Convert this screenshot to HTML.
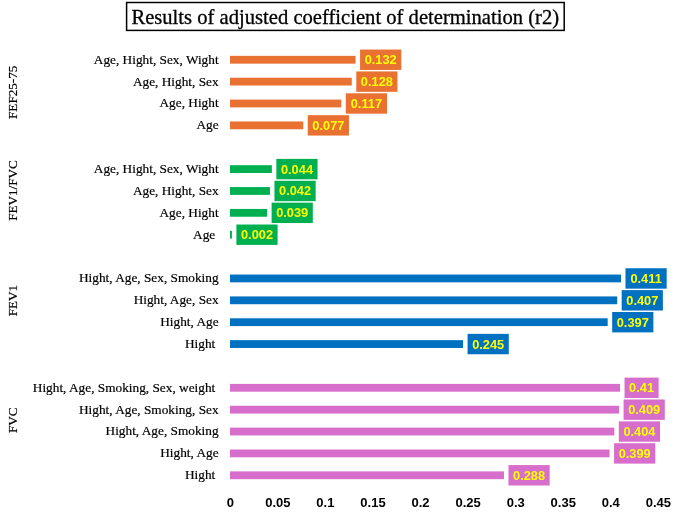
<!DOCTYPE html>
<html lang="en"><head><meta charset="utf-8"><title>Results of adjusted coefficient of determination (r2)</title>
<style>html,body{margin:0;padding:0;background:#fff}body{width:685px;height:513px;overflow:hidden}svg{display:block}text{font-variant-ligatures:none}.c{font-family:"Liberation Serif", serif;font-size:13.3px;fill:#000;stroke:#000;stroke-width:.2px;text-anchor:end;white-space:pre}.g{font-family:"Liberation Serif", serif;font-size:13.15px;fill:#000;stroke:#000;stroke-width:.2px;text-anchor:middle}.v{font-family:"Liberation Sans", sans-serif;font-weight:bold;font-size:12.0px;fill:#FFFF00;text-anchor:middle}.t{font-family:"Liberation Sans", sans-serif;font-weight:bold;font-size:11.9px;fill:#000;text-anchor:middle}.h{font-family:"Liberation Serif", serif;font-size:20.61px;fill:#000;stroke:#000;stroke-width:.3px;text-anchor:middle}</style></head><body>
<svg width="685" height="513" viewBox="0 0 685 513">
<rect x="0" y="0" width="685" height="513" fill="#fff"/>
<rect x="126.6" y="2.5" width="437.6" height="27.9" fill="#fff" stroke="#000" stroke-width="1.5"/>
<text class="h" x="345.25" y="23.8">Results of adjusted coefficient of determination (r2)</text>
<text class="g" transform="translate(17.35 92.30) rotate(-90)">FEF25-75</text>
<text class="g" transform="translate(17.35 190.50) rotate(-90)">FEV1/FVC</text>
<text class="g" transform="translate(17.35 300.60) rotate(-90)">FEV1</text>
<text class="g" transform="translate(17.35 420.30) rotate(-90)">FVC</text>
<rect x="230.0" y="55.85" width="125.57" height="7.8" fill="#E97132"/>
<rect x="360.07" y="49.55" width="41.2" height="20.4" fill="#E97132"/>
<text class="v" transform="translate(380.67 64.25) scale(1.07 1)">0.132</text>
<text class="c" x="218.6" y="63.70">Age, Hight, Sex, Wight</text>
<rect x="230.0" y="77.72" width="121.77" height="7.8" fill="#E97132"/>
<rect x="356.27" y="71.42" width="41.2" height="20.4" fill="#E97132"/>
<text class="v" transform="translate(376.87 86.12) scale(1.07 1)">0.128</text>
<text class="c" x="218.6" y="85.57">Age, Hight, Sex</text>
<rect x="230.0" y="99.59" width="111.30" height="7.8" fill="#E97132"/>
<rect x="345.80" y="93.29" width="41.2" height="20.4" fill="#E97132"/>
<text class="v" transform="translate(366.40 107.99) scale(1.07 1)">0.117</text>
<text class="c" x="218.6" y="107.44">Age, Hight</text>
<rect x="230.0" y="121.46" width="73.25" height="7.8" fill="#E97132"/>
<rect x="307.75" y="115.16" width="41.2" height="20.4" fill="#E97132"/>
<text class="v" transform="translate(328.35 129.86) scale(1.07 1)">0.077</text>
<text class="c" x="218.6" y="129.31">Age</text>
<rect x="230.0" y="165.20" width="41.86" height="7.8" fill="#00B050"/>
<rect x="276.36" y="158.90" width="41.2" height="20.4" fill="#00B050"/>
<text class="v" transform="translate(296.96 173.60) scale(1.07 1)">0.044</text>
<text class="c" x="218.6" y="173.05">Age, Hight, Sex, Wight</text>
<rect x="230.0" y="187.07" width="39.95" height="7.8" fill="#00B050"/>
<rect x="274.45" y="180.77" width="41.2" height="20.4" fill="#00B050"/>
<text class="v" transform="translate(295.05 195.47) scale(1.07 1)">0.042</text>
<text class="c" x="218.6" y="194.92">Age, Hight, Sex</text>
<rect x="230.0" y="208.94" width="37.10" height="7.8" fill="#00B050"/>
<rect x="271.60" y="202.64" width="41.2" height="20.4" fill="#00B050"/>
<text class="v" transform="translate(292.20 217.34) scale(1.07 1)">0.039</text>
<text class="c" x="218.6" y="216.79">Age, Hight</text>
<rect x="230.0" y="230.81" width="1.90" height="7.8" fill="#00B050"/>
<rect x="236.40" y="224.51" width="41.2" height="20.4" fill="#00B050"/>
<text class="v" transform="translate(257.00 239.21) scale(1.07 1)">0.002</text>
<text class="c" x="218.6" y="238.66">Age </text>
<rect x="230.0" y="274.55" width="390.98" height="7.8" fill="#0070C0"/>
<rect x="625.48" y="268.25" width="41.2" height="20.4" fill="#0070C0"/>
<text class="v" transform="translate(646.08 282.95) scale(1.07 1)">0.411</text>
<text class="c" x="218.6" y="282.40">Hight, Age, Sex, Smoking</text>
<rect x="230.0" y="296.42" width="387.18" height="7.8" fill="#0070C0"/>
<rect x="621.68" y="290.12" width="41.2" height="20.4" fill="#0070C0"/>
<text class="v" transform="translate(642.28 304.82) scale(1.07 1)">0.407</text>
<text class="c" x="218.6" y="304.27">Hight, Age, Sex</text>
<rect x="230.0" y="318.29" width="377.67" height="7.8" fill="#0070C0"/>
<rect x="612.17" y="311.99" width="41.2" height="20.4" fill="#0070C0"/>
<text class="v" transform="translate(632.77 326.69) scale(1.07 1)">0.397</text>
<text class="c" x="218.6" y="326.14">Hight, Age</text>
<rect x="230.0" y="340.16" width="233.07" height="7.8" fill="#0070C0"/>
<rect x="467.57" y="333.86" width="41.2" height="20.4" fill="#0070C0"/>
<text class="v" transform="translate(488.17 348.56) scale(1.07 1)">0.245</text>
<text class="c" x="218.6" y="348.01">Hight </text>
<rect x="230.0" y="383.90" width="390.03" height="7.8" fill="#D76ECB"/>
<rect x="624.53" y="377.60" width="34.1" height="20.4" fill="#D76ECB"/>
<text class="v" transform="translate(641.58 392.30) scale(1.07 1)">0.41</text>
<text class="c" x="218.6" y="391.75">Hight, Age, Smoking, Sex, weight </text>
<rect x="230.0" y="405.77" width="389.08" height="7.8" fill="#D76ECB"/>
<rect x="623.58" y="399.47" width="41.2" height="20.4" fill="#D76ECB"/>
<text class="v" transform="translate(644.18 414.17) scale(1.07 1)">0.409</text>
<text class="c" x="218.6" y="413.62">Hight, Age, Smoking, Sex</text>
<rect x="230.0" y="427.64" width="384.33" height="7.8" fill="#D76ECB"/>
<rect x="618.83" y="421.34" width="41.2" height="20.4" fill="#D76ECB"/>
<text class="v" transform="translate(639.43 436.04) scale(1.07 1)">0.404</text>
<text class="c" x="218.6" y="435.49">Hight, Age, Smoking</text>
<rect x="230.0" y="449.51" width="379.57" height="7.8" fill="#D76ECB"/>
<rect x="614.07" y="443.21" width="41.2" height="20.4" fill="#D76ECB"/>
<text class="v" transform="translate(634.67 457.91) scale(1.07 1)">0.399</text>
<text class="c" x="218.6" y="457.36">Hight, Age</text>
<rect x="230.0" y="471.38" width="273.97" height="7.8" fill="#D76ECB"/>
<rect x="508.47" y="465.08" width="41.2" height="20.4" fill="#D76ECB"/>
<text class="v" transform="translate(529.07 479.78) scale(1.07 1)">0.288</text>
<text class="c" x="218.6" y="479.23">Hight </text>
<text class="t" transform="translate(230.30 506.8) scale(1.095 1)">0</text>
<text class="t" transform="translate(277.87 506.8) scale(1.095 1)">0.05</text>
<text class="t" transform="translate(325.43 506.8) scale(1.095 1)">0.1</text>
<text class="t" transform="translate(373.00 506.8) scale(1.095 1)">0.15</text>
<text class="t" transform="translate(420.56 506.8) scale(1.095 1)">0.2</text>
<text class="t" transform="translate(468.12 506.8) scale(1.095 1)">0.25</text>
<text class="t" transform="translate(515.69 506.8) scale(1.095 1)">0.3</text>
<text class="t" transform="translate(563.25 506.8) scale(1.095 1)">0.35</text>
<text class="t" transform="translate(610.82 506.8) scale(1.095 1)">0.4</text>
<text class="t" transform="translate(658.38 506.8) scale(1.095 1)">0.45</text>
</svg></body></html>
